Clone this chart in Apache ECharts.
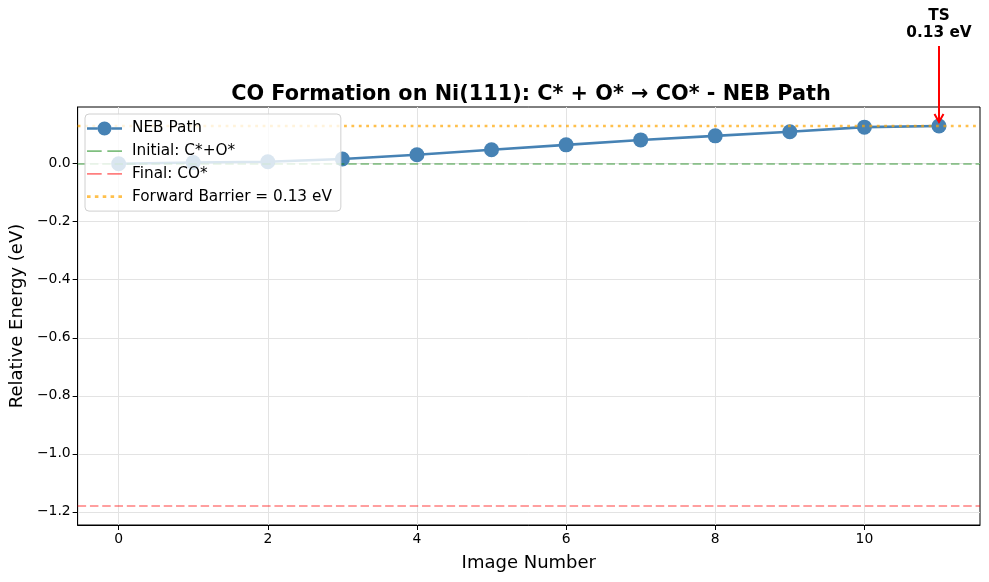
<!DOCTYPE html>
<html>
<head>
<meta charset="utf-8">
<script src="https://cdn.jsdelivr.net/npm/echarts@6/dist/echarts.min.js"></script>
<style>html,body{margin:0;padding:0;background:#fff;}#c{width:989px;height:582px;}</style>
</head>
<body>
<div id="c"></div>
<script>
var images = [0,1,2,3,4,5,6,7,8,9,10,11];
var energies = [0.000,0.004,0.007,0.016,0.031,0.048,0.065,0.082,0.096,0.110,0.126,0.130];
var initialEnergy = 0.0;
var finalEnergy = -1.18;
var barrier = 0.13;
var tsIndex = 11;
var xTicks = [0,2,4,6,8,10];
var yTicks = [-1.2,-1.0,-0.8,-0.6,-0.4,-0.2,0.0];
var xRange = [-0.55, 11.55];
var yRange = [-1.2455, 0.1955];

var FONT = 'DejaVu Sans';
var chart = echarts.init(document.getElementById('c'));
var fmtY = function(v){ var s = Number(v).toFixed(1); return s.replace('-', '\u2212'); };

// legend icon shapes (drawn at itemWidth x itemHeight)
var iconNEB = 'path://M0,6.2 h10.5 v2.6 h-10.5 z M24.5,6.2 h10.5 v2.6 h-10.5 z M10.5,7.5 a7,7 0 1,1 14,0 a7,7 0 1,1 -14,0 z';
var iconDash = 'path://M0,0 h13 v1.6 h-13 z M18,0 h13 v1.6 h-13 z';
var iconDot = 'path://M0,0 h3 v2.4 h-3 z M6.6,0 h3 v2.4 h-3 z M13.2,0 h3 v2.4 h-3 z M19.8,0 h3 v2.4 h-3 z M26.4,0 h3 v2.4 h-3 z';

function hline(name, y, color, type, width){
  return {
    name: name, type: 'line', data: [], symbol: 'none',
    lineStyle: {color: color, type: type, width: width},
    itemStyle: {color: color},
    markLine: {
      silent: true, symbol: 'none', label: {show: false},
      lineStyle: {color: color, type: type, width: width},
      emphasis: {disabled: true},
      data: [{yAxis: y}]
    },
    z: 1
  };
}

var option = {
  animation: false,
  backgroundColor: '#fff',
  textStyle: {fontFamily: FONT},
  title: {
    text: 'CO Formation on Ni(111): C* + O* \u2192 CO* - NEB Path',
    left: 526, top: 79, textAlign: 'center',
    textStyle: {fontFamily: FONT, fontSize: 20.8, fontWeight: 'bold', color: '#000'}
  },
  grid: {left: 77, right: 9, top: 107, bottom: 57, show: true, borderColor: '#000', borderWidth: 1, backgroundColor: 'transparent'},
  legend: {
    orient: 'vertical', left: 85, top: 114,
    backgroundColor: 'rgba(255,255,255,0.8)', borderColor: '#d0d0d0', borderWidth: 1, borderRadius: 4,
    padding: [7, 9, 7, 2], itemGap: 7.7, itemWidth: 35, itemHeight: 15,
    itemStyle: {borderWidth: 0},
    textStyle: {fontFamily: FONT, fontSize: 15.3, lineHeight: 15, color: '#000', padding: [0, 0, 0, 5]},
    data: [
      {name: 'NEB Path', icon: iconNEB},
      {name: 'Initial: C*+O*', icon: iconDash},
      {name: 'Final: CO*', icon: iconDash},
      {name: 'Forward Barrier = 0.13 eV', icon: iconDot}
    ],
    z: 10
  },
  xAxis: {
    type: 'value', min: xRange[0], max: xRange[1],
    name: 'Image Number', nameLocation: 'middle', nameGap: 29,
    nameTextStyle: {fontFamily: FONT, fontSize: 18, color: '#000'},
    axisLine: {show: true, onZero: false, lineStyle: {color: '#000', width: 1}},
    axisTick: {show: true, length: 5, lineStyle: {color: '#000'}, customValues: xTicks},
    axisLabel: {fontFamily: FONT, fontSize: 13.9, color: '#000', margin: 7, customValues: xTicks, formatter: function(v){return String(v);}},
    splitLine: {show: true, lineStyle: {color: '#e3e3e3', width: 1}}
  },
  yAxis: {
    type: 'value', min: yRange[0], max: yRange[1],
    name: 'Relative Energy (eV)', nameLocation: 'middle', nameGap: 50, nameRotate: 90,
    nameTextStyle: {fontFamily: FONT, fontSize: 18, color: '#000'},
    axisLine: {show: true, onZero: false, lineStyle: {color: '#000', width: 1}},
    axisTick: {show: true, length: 5, lineStyle: {color: '#000'}, customValues: yTicks},
    axisLabel: {fontFamily: FONT, fontSize: 13.9, color: '#000', margin: 7, customValues: yTicks, formatter: fmtY},
    splitLine: {show: true, lineStyle: {color: '#e3e3e3', width: 1}}
  },
  series: [
    {
      name: 'NEB Path', type: 'line',
      data: images.map(function(x, i){ return [x, energies[i]]; }),
      symbol: 'circle', symbolSize: 15, showSymbol: true,
      lineStyle: {color: '#4682B4', width: 2.6},
      itemStyle: {color: '#4682B4'},
      z: 3
    },
    hline('Initial: C*+O*', initialEnergy, 'rgba(0,128,0,0.5)', [8.5, 3.8], 1.6),
    hline('Final: CO*', finalEnergy, 'rgba(255,0,0,0.5)', [8.5, 3.8], 1.6),
    hline('Forward Barrier = 0.13 eV', barrier, 'rgba(255,165,0,0.7)', [2.8, 4.6], 2.4)
  ]
};
chart.setOption(option);

// TS annotation, positioned through the chart's own scales
var tip = chart.convertToPixel({gridIndex: 0}, [images[tsIndex], energies[tsIndex]]);
var txt = chart.convertToPixel({gridIndex: 0}, [images[tsIndex], barrier + 0.3]);
var tipY = tip[1] - 4;
var startY = txt[1] + 7;
chart.setOption({
  graphic: [
    {type: 'text', x: txt[0], y: txt[1] + 2, z: 20,
     style: {text: 'TS\n' + barrier.toFixed(2) + ' eV', fontFamily: FONT, fontSize: 15.3, fontWeight: 'bold', fill: '#000', align: 'center', verticalAlign: 'bottom', lineHeight: 16.5}},
    {type: 'line', z: 20, shape: {x1: tip[0], y1: startY, x2: tip[0], y2: tipY},
     style: {stroke: '#ff0000', lineWidth: 2}},
    {type: 'polyline', z: 20, shape: {points: [[tip[0]-4.5, tipY-8], [tip[0], tipY], [tip[0]+4.5, tipY-8]]},
     style: {stroke: '#ff0000', lineWidth: 2, fill: 'none'}}
  ]
});
</script>
</body>
</html>
